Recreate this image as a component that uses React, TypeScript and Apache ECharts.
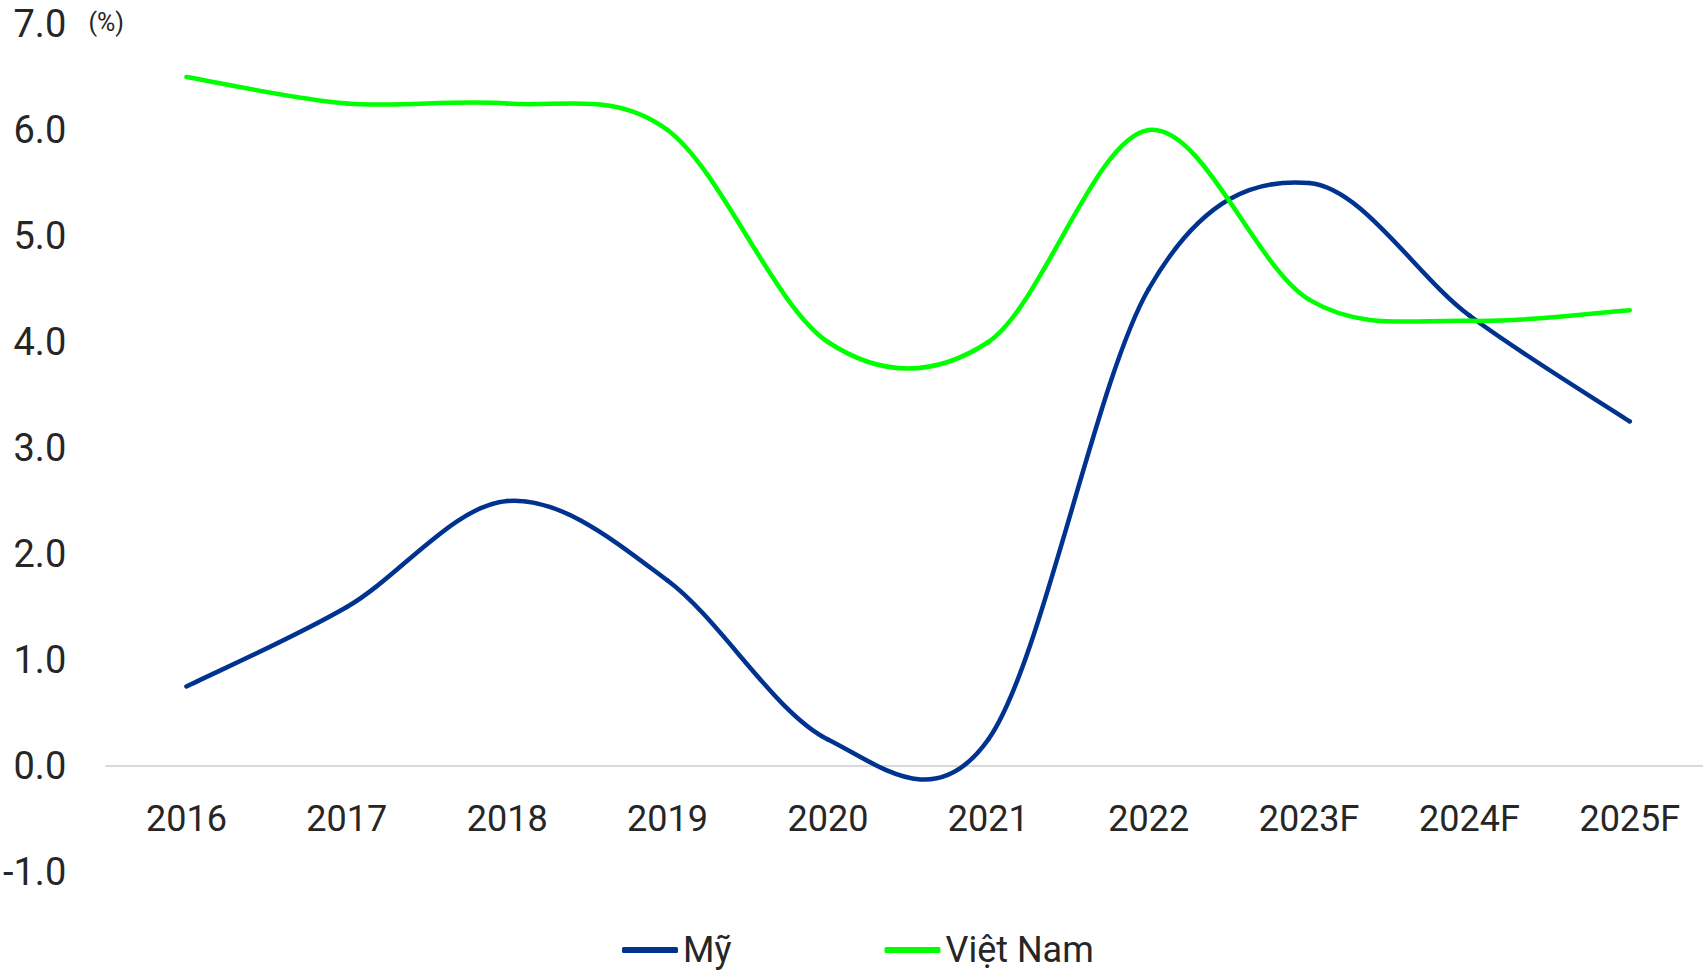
import React, { useEffect, useRef } from "react";
import * as echarts from "echarts";

const categories = ["2016", "2017", "2018", "2019", "2020", "2021", "2022", "2023F", "2024F", "2025F"];
const usValues = [0.75, 1.5, 2.5, 1.75, 0.25, 0.25, 4.5, 5.5, 4.25, 3.25];
const vnValues = [6.5, 6.25, 6.25, 6.0, 4.0, 4.0, 6.0, 4.4, 4.2, 4.3];
const seriesNames = ["Mỹ", "Việt Nam"];
const US_COLOR = "#00338F";
const VN_COLOR = "#00FF00";
const FONT = "Roboto";
const TEXT_COLOR = "#262626";

function makeRender(values: number[], color: string) {
  return (params: any, api: any) => {
    const i = params.dataIndex;
    const n = values.length;
    if (i >= n - 1) return { type: "group", children: [] };
    const pt = (k: number) => {
      const kk = Math.max(0, Math.min(n - 1, k));
      return api.coord([kk, values[kk]]);
    };
    const p0 = pt(i - 1);
    const p1 = pt(i);
    const p2 = pt(i + 1);
    const p3 = pt(i + 2);
    return {
      type: "bezierCurve",
      shape: {
        x1: p1[0],
        y1: p1[1],
        x2: p2[0],
        y2: p2[1],
        cpx1: p1[0] + (p2[0] - p0[0]) / 6,
        cpy1: p1[1] + (p2[1] - p0[1]) / 6,
        cpx2: p2[0] - (p3[0] - p1[0]) / 6,
        cpy2: p2[1] - (p3[1] - p1[1]) / 6,
      },
      style: { stroke: color, lineWidth: 4.5, fill: "none", lineCap: "round" },
    };
  };
}

export default function App() {
  const ref = useRef<HTMLDivElement>(null);
  useEffect(() => {
    if (!ref.current) return;
    const chart = echarts.init(ref.current, null, { renderer: "svg" });
    chart.setOption({
      animation: false,
      backgroundColor: "#ffffff",
      textStyle: { fontFamily: FONT },
      grid: { left: 104, right: 0, top: 24, bottom: 100, containLabel: false },
      legend: {
        data: seriesNames,
        left: 617,
        top: 927,
        icon: "roundRect",
        itemWidth: 56,
        itemHeight: 6,
        itemGap: 153,
        itemStyle: { borderWidth: 0 },
        textStyle: { fontFamily: FONT, fontSize: 36, color: TEXT_COLOR },
      },
      xAxis: {
        type: "category",
        data: categories,
        boundaryGap: true,
        offset: -106,
        axisLine: { onZero: false, lineStyle: { color: "#D9D9D9", width: 2 } },
        axisTick: { show: false },
        axisLabel: { fontFamily: FONT, fontSize: 36, color: TEXT_COLOR, margin: 35, interval: 0 },
        splitLine: { show: false },
      },
      yAxis: {
        type: "value",
        min: -1,
        max: 7,
        interval: 1,
        name: "(%)",
        nameLocation: "end",
        nameGap: 2,
        nameTextStyle: { fontFamily: FONT, fontSize: 25, color: TEXT_COLOR, align: "center", verticalAlign: "middle" },
        axisLine: { show: false },
        axisTick: { show: false },
        splitLine: { show: false },
        axisLabel: {
          fontFamily: FONT,
          fontSize: 38,
          color: TEXT_COLOR,
          margin: 40,
          formatter: (v: number) => v.toFixed(1),
        },
      },
      series: [
        {
          name: seriesNames[0],
          type: "custom",
          renderItem: makeRender(usValues, US_COLOR),
          data: usValues.map((v, i) => [i, v]),
          encode: { x: 0, y: 1 },
          itemStyle: { color: US_COLOR },
          z: 2,
        },
        {
          name: seriesNames[1],
          type: "custom",
          renderItem: makeRender(vnValues, VN_COLOR),
          data: vnValues.map((v, i) => [i, v]),
          encode: { x: 0, y: 1 },
          itemStyle: { color: VN_COLOR },
          z: 3,
        },
      ],
    });
    return () => chart.dispose();
  }, []);
  return <div ref={ref} style={{ position: "fixed", left: 0, top: 0, width: 1710, height: 972 }} />;
}
